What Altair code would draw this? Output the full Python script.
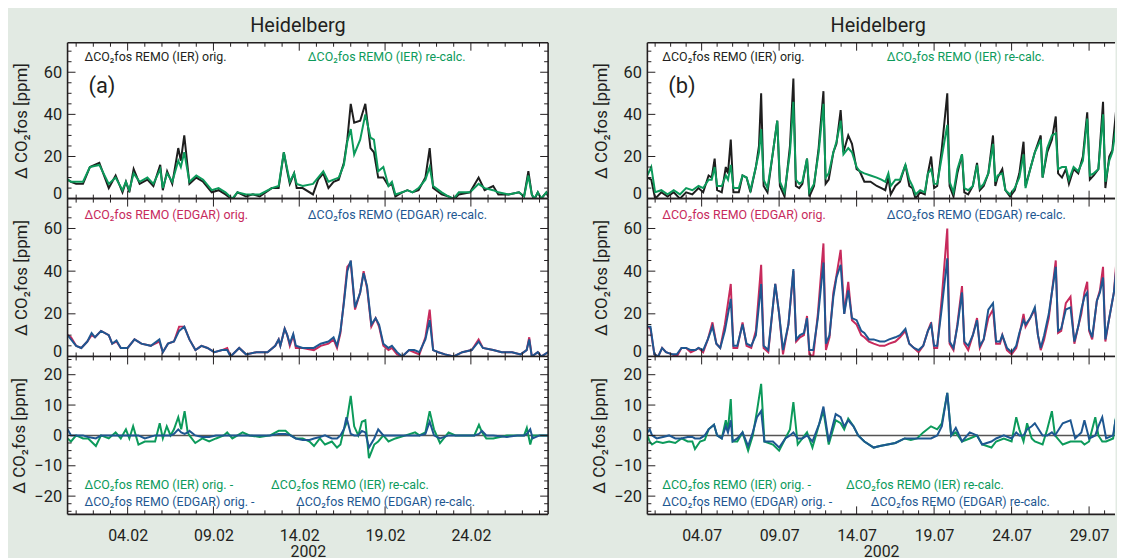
import altair as alt
import pandas as pd

# ---------------- data (days since start of month, ppm) ----------------
FEB_TOP_D = [0, 0.2, 0.5, 0.9, 1.3, 1.85, 2.4, 2.8, 3.2, 3.4, 3.6, 3.85, 4.2, 4.65, 5.0, 5.4, 5.55, 5.8, 6.1, 6.45,
             6.6, 6.8, 7.1, 7.5, 7.9, 8.4, 8.8, 9.2, 9.6, 9.9, 10.4, 10.8, 11.2, 11.9, 12.3, 12.6, 12.8, 12.95, 13.2, 13.35,
             13.7, 14.3, 14.6, 14.9, 15.2, 15.5, 15.8, 16.1, 16.3, 16.5, 16.7, 17.05, 17.35, 17.65, 17.85, 18.1, 18.4, 18.7, 18.9, 19.1,
             19.5, 19.8, 20.1, 20.45, 20.85, 21.1, 21.3, 21.8, 22.2, 22.5, 22.8, 23.45, 23.95, 24.3, 24.8, 25.1, 25.7, 26.3, 26.6, 26.85,
             27.05, 27.2, 27.4, 27.6, 27.9, 28.0]
FEB_IER_ORIG = [9, 8, 7, 7, 15, 17, 5, 11, 3, 8, 3, 14, 7, 9, 6, 16, 4, 13, 7, 24,
                18, 30, 7, 10, 8, 3, 4, 2, -0.5, 3, 1, 2, 1, 5, 5, 22, 13, 7, 12, 5,
                5, 2, 9, 12, 5, 8, 9, 17, 28, 45, 36, 37, 45, 24, 22, 10, 10, 6, 7, 1,
                3, 4, 3, 4, 10, 24, 5, 2, 1, -0.5, 2, 3, 10, 4, 6, 2, 2, 3, 1, 13,
                2, -0.5, 3, 0, 3, 1]
FEB_IER_RECALC = [9, 8, 8, 8, 15, 16, 7, 10, 4, 8, 4, 12, 8, 10, 7, 14, 5, 12, 8, 18,
                  15, 22, 8, 11, 9, 4, 5, 3, 0, 3, 2, 2, 2, 5, 6, 22, 14, 8, 12, 7,
                  6, 7, 10, 13, 8, 9, 10, 16, 27, 33, 21, 28, 40, 29, 28, 13, 15, 6, 8, 2,
                  3, 4, 3, 5, 9, 15, 6, 3, 1, 0, 3, 3, 7, 5, 4, 3, 2, 3, 1, 11,
                  2, 0, 3, 0, 3, 2]

FEB_MID_D = [0, 0.2, 0.5, 0.8, 1.15, 1.4, 1.6, 1.95, 2.4, 2.6, 2.85, 3.1, 3.5, 3.9, 4.3, 4.85, 5.35, 5.55, 5.85, 6.2,
             6.5, 6.8, 7.1, 7.45, 7.8, 8.15, 8.55, 9.0, 9.3, 9.5, 10.0, 10.4, 11.0, 11.65, 12.1, 12.3, 12.4, 12.65, 12.8, 12.95,
             13.15, 13.3, 13.7, 14.35, 14.75, 15.2, 15.5, 15.7, 15.9, 16.1, 16.3, 16.5, 16.75, 17.05, 17.25, 17.45, 17.7, 17.95, 18.15, 18.4,
             18.7, 18.9, 19.2, 19.5, 19.9, 20.2, 20.5, 20.85, 21.1, 21.3, 21.6, 22.0, 22.5, 23.0, 23.55, 23.95, 24.2, 24.8, 25.3, 25.9,
             26.4, 26.75, 26.9, 27.05, 27.4, 27.6, 28.0]
FEB_EDGAR_ORIG = [10, 9, 5, 4, 7, 10, 9, 12, 10, 6, 7, 4, 4, 8, 6, 5, 7, 2, 6, 7,
                  14, 14, 8, 3, 5, 4, 2, 3, 4, 0, 4, 1, 2, 2, 5, 8, 5, 13, 10, 5,
                  10, 4, 4, 3, 5, 6, 8, 4, 11, 26, 42, 44, 22, 30, 40, 32, 14, 18, 14, 5,
                  3, 4, 1, 0, 3, 2, 1, 9, 22, 3, 2, 1, 0, 2, 3, 8, 4, 3, 2, 2,
                  1, 3, 9, 0, 2, 0, 2]
FEB_EDGAR_RECALC = [10, 8, 5, 4, 7, 11, 9, 12, 10, 6, 7.5, 4, 4, 8, 6, 5, 8, 2, 6, 7,
                    12, 14, 8, 3, 5, 4, 2, 3, 3, 0, 4, 1, 2, 2, 5, 8, 5, 13, 10, 6,
                    10.5, 5, 4, 4, 6, 7, 9, 5, 12, 25, 40, 45, 23, 30, 39, 33, 15, 18, 15, 6,
                    4, 5, 2, 0, 3, 3, 2, 8, 17, 3, 2, 1, 0, 2, 3, 7, 4, 3, 2, 2,
                    1, 3, 8, 0, 2, 0, 2]

FEB_BOT_D = [0, 0.2, 0.5, 0.9, 1.2, 1.65, 1.95, 2.4, 2.8, 3.1, 3.4, 3.6, 3.82, 4.13, 4.5, 5.1, 5.37, 5.55, 5.78, 6.0,
             6.2, 6.45, 6.62, 6.82, 7.0, 7.1, 7.44, 7.85, 8.25, 8.65, 9.1, 9.3, 9.6, 10.2, 10.6, 11.2, 11.8, 12.3, 12.7, 13.0,
             13.3, 13.7, 14.1, 14.36, 14.7, 15.0, 15.4, 15.7, 15.9, 16.1, 16.25, 16.5, 16.7, 16.94, 17.15, 17.35, 17.56, 17.87, 18.1, 18.4,
             18.7, 19.1, 19.7, 20.25, 20.5, 20.85, 21.1, 21.35, 21.7, 22.2, 22.6, 23.2, 23.7, 23.97, 24.15, 24.4, 24.8, 25.6, 26.2, 26.6,
             26.76, 26.96, 27.1, 27.5, 28.0]
FEB_IER_DIFF = [-1, -2, 0, -1, -1, -3.5, 0, -1, 1, -1, 2, -1, 3, -3, -2, -2, 4, -1, 3, 0,
                2, 6, 2, 8, 1, 0, -2.5, -1, -2, -1, 0, 1, -1, 1, 0, -0.5, 0, 1.5, 1.5, 0,
                -1, -1, -2, -3.5, -1, -3, -2, -4, -3, 2, 4, 13, 3, 0, 4.5, 5, -7.5, -3, -2, 0,
                -2, -1, 0, 1, 0, 1, 8, 2, -2.5, 1, 0, 0, 0, 3.5, 1, -1, -1, 0, 0, 0,
                2.5, -3, 0, 0, 0]
FEB_EDGAR_DIFF = [2, 0, 0, 0, -0.5, -1, 0, 0, 0, 0, 0, 0, 0, 0, -1, 0, 0, 0, 0, 0,
                  0.5, 2, 1, 0.5, 1, 1.5, 0, -0.5, -0.5, 0, 0, 0, 0, 0, 0, 0, 0, 0.5, 0.5, 0,
                  -1, -1.5, -1.5, -1, -0.5, 0, -1, -1, 0, 2, 6, 0.5, 0, 0, 1.5, 1, -4, -1, 2, 0,
                  0, 0, 0, 0, 0, 0.5, 4.5, 0, -1, 0, 0, 0, 0, 0.5, 1.5, 0, 0, -0.5, 0, 0,
                  0.5, 2, -1, 0, 0]

JUL_TOP_D = [0.0, 0.25, 0.5, 0.9, 1.3, 1.7, 2.1, 2.5, 2.9, 3.3, 3.6, 3.95, 4.15, 4.34, 4.5, 4.8, 5.06, 5.2, 5.38, 5.55,
             5.9, 6.14, 6.4, 6.65, 7.0, 7.2, 7.34, 7.5, 7.75, 8.1, 8.38, 8.55, 8.85, 9.2, 9.42, 9.58, 9.8, 10.0, 10.3, 10.45,
             10.75, 11.05, 11.36, 11.5, 11.7, 12.0, 12.2, 12.47, 12.65, 12.96, 13.2, 13.5, 13.7, 14.0, 14.4, 14.8, 15.1, 15.35, 15.55, 15.7,
             16.0, 16.3, 16.65, 16.9, 17.1, 17.3, 17.6, 17.9, 18.1, 18.31, 18.5, 18.7, 19.0, 19.35, 19.5, 19.75, 20.0, 20.3, 20.45, 20.7,
             21.0, 21.27, 21.45, 21.7, 22.0, 22.3, 22.45, 22.6, 22.9, 23.1, 23.4, 23.7, 24.0, 24.27, 24.4, 24.7, 25.0, 25.38, 25.5, 25.8,
             26.1, 26.35, 26.5, 26.75, 27.0, 27.2, 27.5, 27.8, 28.1, 28.38, 28.55, 28.8, 29.1, 29.4, 29.55, 29.8, 30.0, 30.32, 30.5, 30.8,
             31.0]
JUL_IER_ORIG = [10, 9, 0, 3, 1, 3, 0, 3, 2, 5, 3, 11, 10, 19, 4, 3, 15, 12, 28, 3,
                3, 11, 10, 3, 15, 25, 50, 6, 3, 22, 37, 6, 1, 25, 57, 6, 5, 7, 19, 1,
                6, 24, 51, 7, 9, 22, 26, 42, 22, 30, 26, 14, 13, 8, 8, 6, 5, 4, 10, 2,
                6, 8, 16, 6, 5, 0, 3, 2, 12, 20, 5, 6, 24, 50, 6, 1, 12, 21, 3, 2,
                6, 17, 4, 6, 12, 30, 6, 10, 14, 4, 1, 4, 12, 27, 6, 14, 22, 30, 10, 22,
                28, 39, 12, 10, 14, 7, 14, 12, 20, 41, 9, 11, 14, 46, 5, 20, 23, 48, 10, 12,
                12]
JUL_IER_RECALC = [11, 15, 3, 4, 2, 4, 2, 5, 4, 6, 5, 9, 9, 15, 6, 6, 11, 9, 16, 5,
                  5, 11, 10, 4, 15, 22, 33, 9, 5, 22, 37, 8, 3, 22, 46, 9, 7, 8, 19, 3,
                  7, 22, 45, 10, 12, 22, 27, 37, 21, 24, 22, 15, 13, 12, 11, 10, 9, 8, 12, 6,
                  9, 9, 16, 9, 6, 2, 4, 3, 12, 14, 7, 7, 20, 35, 8, 3, 14, 21, 5, 4,
                  6, 16, 5, 7, 12, 26, 8, 11, 12, 4, 2, 5, 10, 21, 5, 14, 22, 28, 10, 24,
                  30, 31, 14, 15, 15, 9, 15, 13, 18, 38, 11, 12, 14, 40, 8, 18, 22, 38, 12, 13,
                  13]

JUL_MID_D = [0.0, 0.2, 0.45, 0.7, 0.95, 1.2, 1.6, 1.9, 2.2, 2.5, 2.8, 3.1, 3.3, 3.6, 3.9, 4.2, 4.45, 4.7, 5.0, 5.38,
             5.55, 5.8, 6.14, 6.4, 6.7, 7.0, 7.34, 7.5, 7.8, 8.25, 8.5, 8.75, 9.1, 9.42, 9.6, 9.85, 10.1, 10.3, 10.45, 10.7,
             11.0, 11.36, 11.52, 11.75, 12.0, 12.2, 12.47, 12.7, 12.96, 13.2, 13.5, 13.8, 14.0, 14.3, 14.6, 15.0, 15.3, 15.6, 16.0, 16.3,
             16.65, 16.9, 17.2, 17.5, 17.8, 18.1, 18.31, 18.5, 18.7, 19.0, 19.35, 19.5, 19.75, 20.0, 20.3, 20.45, 20.7, 21.0, 21.27, 21.45,
             21.7, 22.0, 22.3, 22.5, 22.75, 22.9, 23.2, 23.5, 23.8, 24.0, 24.27, 24.4, 24.7, 25.0, 25.2, 25.38, 25.6, 25.9, 26.1, 26.35,
             26.5, 26.7, 27.0, 27.3, 27.55, 27.8, 28.0, 28.2, 28.38, 28.5, 28.7, 29.0, 29.2, 29.4, 29.55, 29.8, 30.1, 30.32, 30.5, 30.8,
             31.0]
JUL_EDGAR_ORIG = [14, 13, 1, 0, 4, 2, 1, 0, 4, 4, 2, 3, 4, 2, 8, 16, 6, 4, 15, 34,
                  4, 4, 16, 5, 4, 12, 43, 4, 2, 34, 20, 1, 15, 40, 7, 9, 10, 19, 1, 0,
                  20, 53, 3, 9, 30, 38, 50, 20, 35, 17, 15, 10, 9, 7, 6, 5, 5, 6, 7, 9,
                  12, 6, 4, 2, 5, 12, 16, 4, 4, 28, 60, 6, 3, 15, 33, 6, 3, 10, 18, 4,
                  8, 18, 22, 6, 6, 10, 3, 1, 4, 10, 20, 14, 18, 22, 10, 3, 8, 18, 30, 45,
                  11, 12, 25, 28, 6, 14, 20, 30, 35, 12, 8, 26, 31, 42, 7, 18, 30, 50, 9, 10,
                  10]
JUL_EDGAR_RECALC = [14, 14, 1, 0, 4, 2, 1, 1, 4, 4, 3, 3, 4, 3, 8, 14, 6, 4, 12, 27,
                    5, 5, 15, 6, 5, 10, 34, 5, 3, 34, 20, 3, 15, 41, 8, 10, 11, 18, 3, 3,
                    18, 44, 6, 10, 28, 37, 43, 20, 31, 18, 17, 12, 11, 8, 8, 7, 7, 8, 9, 10,
                    13, 6, 4, 3, 5, 12, 15, 5, 5, 23, 46, 7, 4, 14, 30, 7, 5, 10, 17, 5,
                    8, 22, 25, 7, 7, 10, 4, 2, 5, 11, 17, 15, 18, 23, 10, 4, 10, 20, 30, 42,
                    12, 13, 22, 23, 7, 14, 22, 28, 30, 13, 9, 26, 30, 37, 8, 18, 30, 46, 12, 12,
                    12]

JUL_BOT_D = [0.0, 0.15, 0.3, 0.6, 1.0, 1.4, 1.8, 2.2, 2.6, 2.9, 3.07, 3.4, 3.7, 3.95, 4.3, 4.5, 4.8, 5.06, 5.2, 5.38,
             5.5, 5.8, 6.14, 6.5, 6.8, 7.07, 7.34, 7.55, 8.1, 8.5, 8.9, 9.2, 9.42, 9.7, 10.0, 10.3, 10.65, 11.1, 11.36, 11.7,
             12.15, 12.47, 12.7, 12.96, 13.3, 13.6, 14.0, 14.6, 15.0, 15.5, 16.0, 16.6, 17.0, 17.4, 17.8, 18.3, 18.7, 19.0, 19.35, 19.6,
             19.9, 20.3, 20.8, 21.27, 21.6, 22.2, 22.5, 23.0, 23.5, 23.8, 24.0, 24.27, 24.5, 24.8, 25.0, 25.5, 25.8, 26.1, 26.3, 26.8,
             27.3, 27.6, 28.0, 28.2, 28.5, 28.9, 29.1, 29.35, 29.6, 30.05, 30.2, 30.4, 30.6, 31.0]
JUL_IER_DIFF = [0, -2, -3, -2, -2.5, -2, -2.5, -1, -2, -2, -4.5, -2, -1.5, 2, 3.5, 0, -1, 5, 2, 12,
                -2, -2, 1, -5, 0, 8, 17, -2, -3, -5, -1, 2, 11, -3, -1, 1, -4, 4, 8, -3,
                5, 4, 2, 5.5, 3, 0, -2, -4, -3.5, -3, -2.5, -1, -1.5, -1, 1, 3, 2, 4, 14, 0,
                1, -2, -1, 0, -3, -4, -2, -1, -2, 6, 2, -2, 4, -1, -2, -3, 2, 8, 0, -3,
                -2, -2, -2, -3, -2, 6, 0, -2, -2, -1, 5, 10, -3, -2]
JUL_EDGAR_DIFF = [1, 2, 0, -1, -0.5, 0, -1, -1, -0.5, -0.5, -1, -1, 0, 2, 3.5, 0, -1, 3, 1, 5,
                  -2, -1, 1, -3.5, 1, 6, 8, -2, -2, -4, -1, 0, 1, -1, -1, 0, -2, 4, 9.5, -2,
                  7, 6, 3, 5, 3, 0, -2, -4, -3.5, -3, -2.5, -1, -1, -1, -1, -1, 0, 3, 14, 0,
                  2.5, -2, 1, 0, -3, -2, -1, 0, -1, 1, 0, 0, 2, 3, 4, 0, 0, 1, 0, 4,
                  5, -1, 1, 5, -1, 0, 3, 6, -1, 0, 5, 6, -4, -2]

FEB_TICK_POS = [3.5, 8.5, 13.5, 18.5, 23.5]
FEB_TICK_LABELS = ["04.02", "09.02", "14.02", "19.02", "24.02"]
JUL_TICK_POS = [3.5, 8.5, 13.5, 18.5, 23.5, 28.5]
JUL_TICK_LABELS = ["04.07", "09.07", "14.07", "19.07", "24.07", "29.07"]
Y_CONC_MAJOR = [0, 20, 40, 60]
Y_CONC_MINOR = [5, 10, 15, 25, 30, 35, 45, 50, 55, 65, 70]
Y_DIFF_MAJOR = [-20, -10, 0, 10, 20]
Y_DIFF_MINOR = [-25, -22.5, -17.5, -15, -12.5, -7.5, -5, -2.5, 2.5, 5, 7.5, 12.5, 15, 17.5, 22.5, 25]

# ---------------- style ----------------
FONT = "Roboto"
INK = "#231f20"
BG = "#e2eae3"
C_BLACK = "#1e1e1e"
C_GREEN = "#0c9a5b"
C_RED = "#c72a5c"
C_BLUE = "#1e5791"

W_A, W_B = 484, 471          # right panel is cut by the page edge, as in the original
PX_PER_DAY_B = 15.61
H_TOP, H_MID, H_BOT = 157, 159, 159
Y_DOM_CONC = [0, 74]
Y_DOM_DIFF = [-26, 26]
L_MAJ, L_MIN = 8, 4
YTITLE = "Δ CO₂fos [ppm]"
EMPTY = alt.Data(values=[{}])


def label_expr(pos, labels):
    expr = "''"
    for p, l in reversed(list(zip(pos, labels))):
        expr = f"datum.value == {p} ? '{l}' : ({expr})"
    return expr


def y_axis(values, title_x):
    return alt.Axis(values=values, ticks=False, domain=False, grid=False,
                    labelFont=FONT, labelFontSize=16.5, labelColor=INK, labelPadding=6,
                    labelFlush=True, labelFlushOffset=3,
                    title=YTITLE, titleFont=FONT, titleFontSize=17, titleFontWeight="normal",
                    titleColor=INK, titleX=title_x)


def x_axis(pos, labels):
    return alt.Axis(values=pos, labelExpr=label_expr(pos, labels), ticks=False, domain=False,
                    grid=False, labelFont=FONT, labelFontSize=16, labelColor=INK, labelPadding=13,
                    labelFlush=False, title="2002", titleFont=FONT, titleFontSize=16,
                    titleFontWeight="normal", titleColor=INK, titlePadding=0)


def text_layer(txt, x, y, color, size=12.5):
    return alt.Chart(EMPTY).mark_text(
        align="left", baseline="middle", font=FONT, fontSize=size, color=color
    ).encode(x=alt.value(x), y=alt.value(y), text=alt.value(txt))


def frame_layers(W, H, right=True):
    base = alt.Chart(EMPTY).mark_rule(color=INK, strokeWidth=1.6)
    out = [base.encode(x=alt.value(0), y=alt.value(0), y2=alt.value(H)),
           base.encode(y=alt.value(0), x=alt.value(0), x2=alt.value(W)),
           base.encode(y=alt.value(H), x=alt.value(0), x2=alt.value(W))]
    if right:
        out.append(base.encode(x=alt.value(W), y=alt.value(0), y2=alt.value(H)))
    return out


def panel(W, H, xdom, ydom, series, texts, ymaj, ymin, xmaj, xmin, xaxis=None, zero=False,
          title_x=-37, title=None, title_dx=-10, right=True):
    xs = alt.Scale(domain=xdom, nice=False, zero=False)
    ys = alt.Scale(domain=ydom, nice=False, zero=False)
    yax = y_axis(ymaj, title_x)

    def X(field):
        return alt.X(field, scale=xs, axis=xaxis)

    def Y(field):
        return alt.Y(field, scale=ys, axis=yax)

    layers = []
    if zero:
        layers.append(alt.Chart(pd.DataFrame({"v": [0]})).mark_rule(color="#555555", strokeWidth=1.5)
                      .encode(y=Y("v:Q")))
    for d, v, color in series:
        df = pd.DataFrame({"d": d, "v": v})
        layers.append(alt.Chart(df).mark_line(color=color, strokeWidth=2, clip=True)
                      .encode(x=X("d:Q"), y=Y("v:Q")))
    # inward ticks
    for vals, L in [(ymaj, L_MAJ), (ymin, L_MIN)]:
        df = pd.DataFrame({"v": vals})
        base = alt.Chart(df).mark_rule(color=INK, strokeWidth=1)
        layers.append(base.encode(y=Y("v:Q"), x=alt.value(0), x2=alt.value(L)))
        if right:
            layers.append(base.encode(y=Y("v:Q"), x=alt.value(W - L), x2=alt.value(W)))
    for vals, L in [(xmaj, L_MAJ), (xmin, L_MIN)]:
        df = pd.DataFrame({"d": vals})
        base = alt.Chart(df).mark_rule(color=INK, strokeWidth=1)
        layers.append(base.encode(x=X("d:Q"), y=alt.value(H - L), y2=alt.value(H)))
        layers.append(base.encode(x=X("d:Q"), y=alt.value(0), y2=alt.value(L)))
    layers += frame_layers(W, H, right)
    for t in texts:
        layers.append(text_layer(*t))
    ch = alt.layer(*layers).properties(width=W, height=H)
    if title:
        ch = ch.properties(title=alt.TitleParams(title, font=FONT, fontSize=20, fontWeight="normal",
                                                 color=INK, anchor="middle", frame="group",
                                                 dx=title_dx, offset=6))
    return ch


def column(W, xdom, tick_pos, tick_labels, letter, top_series, mid_series, bot_series,
           xt, xt2, xb1, xb2, title_dx, right):
    xmin = [k + 0.5 for k in range(int(xdom[1]) + 1) if (k + 0.5) not in tick_pos and k + 0.5 <= xdom[1]]
    top = panel(W, H_TOP, xdom, Y_DOM_CONC, top_series,
                [("ΔCO₂fos REMO (IER) orig.", xt, 14, INK),
                 ("ΔCO₂fos REMO (IER) re-calc.", xt2, 14, C_GREEN),
                 (letter, 21, 44, INK, 22)],
                Y_CONC_MAJOR, Y_CONC_MINOR, tick_pos, xmin, title="Heidelberg",
                title_dx=title_dx, right=right)
    mid = panel(W, H_MID, xdom, Y_DOM_CONC, mid_series,
                [("ΔCO₂fos REMO (EDGAR) orig.", xt, 17, C_RED),
                 ("ΔCO₂fos REMO (EDGAR) re-calc.", xt2, 17, C_BLUE)],
                Y_CONC_MAJOR, Y_CONC_MINOR, tick_pos, xmin, right=right)
    bot = panel(W, H_BOT, xdom, Y_DOM_DIFF, bot_series,
                [("ΔCO₂fos REMO (IER) orig. -", xt, 129, C_GREEN),
                 ("ΔCO₂fos REMO (IER) re-calc.", xb1, 129, C_GREEN),
                 ("ΔCO₂fos REMO (EDGAR) orig. -", xt, 147, C_BLUE),
                 ("ΔCO₂fos REMO (EDGAR) re-calc.", xb2, 147, C_BLUE)],
                Y_DIFF_MAJOR, Y_DIFF_MINOR, tick_pos, xmin,
                xaxis=x_axis(tick_pos, tick_labels), zero=True, title_x=-39, right=right)
    return alt.vconcat(top, mid, bot, spacing=0, bounds="flush")


col_a = column(W_A, [0, 28], FEB_TICK_POS, FEB_TICK_LABELS, "(a)",
               [(FEB_TOP_D, FEB_IER_ORIG, C_BLACK), (FEB_TOP_D, FEB_IER_RECALC, C_GREEN)],
               [(FEB_MID_D, FEB_EDGAR_ORIG, C_RED), (FEB_MID_D, FEB_EDGAR_RECALC, C_BLUE)],
               [(FEB_BOT_D, FEB_IER_DIFF, C_GREEN), (FEB_BOT_D, FEB_EDGAR_DIFF, C_BLUE)],
               17, 242, 205, 230, -10, True)
col_b = column(W_B, [0, W_B / PX_PER_DAY_B], JUL_TICK_POS, JUL_TICK_LABELS, "(b)",
               [(JUL_TOP_D, JUL_IER_ORIG, C_BLACK), (JUL_TOP_D, JUL_IER_RECALC, C_GREEN)],
               [(JUL_MID_D, JUL_EDGAR_ORIG, C_RED), (JUL_MID_D, JUL_EDGAR_RECALC, C_BLUE)],
               [(JUL_BOT_D, JUL_IER_DIFF, C_GREEN), (JUL_BOT_D, JUL_EDGAR_DIFF, C_BLUE)],
               15, 241, 200, 225, -3, False)

chart = (alt.hconcat(col_a, col_b, spacing=40)
         .properties(background=BG, padding={"left": 2, "top": 5, "right": 0, "bottom": 0})
         .configure_view(stroke="transparent", fill="white"))

chart.save("out.html", embed_options={"renderer": "svg", "actions": False})
